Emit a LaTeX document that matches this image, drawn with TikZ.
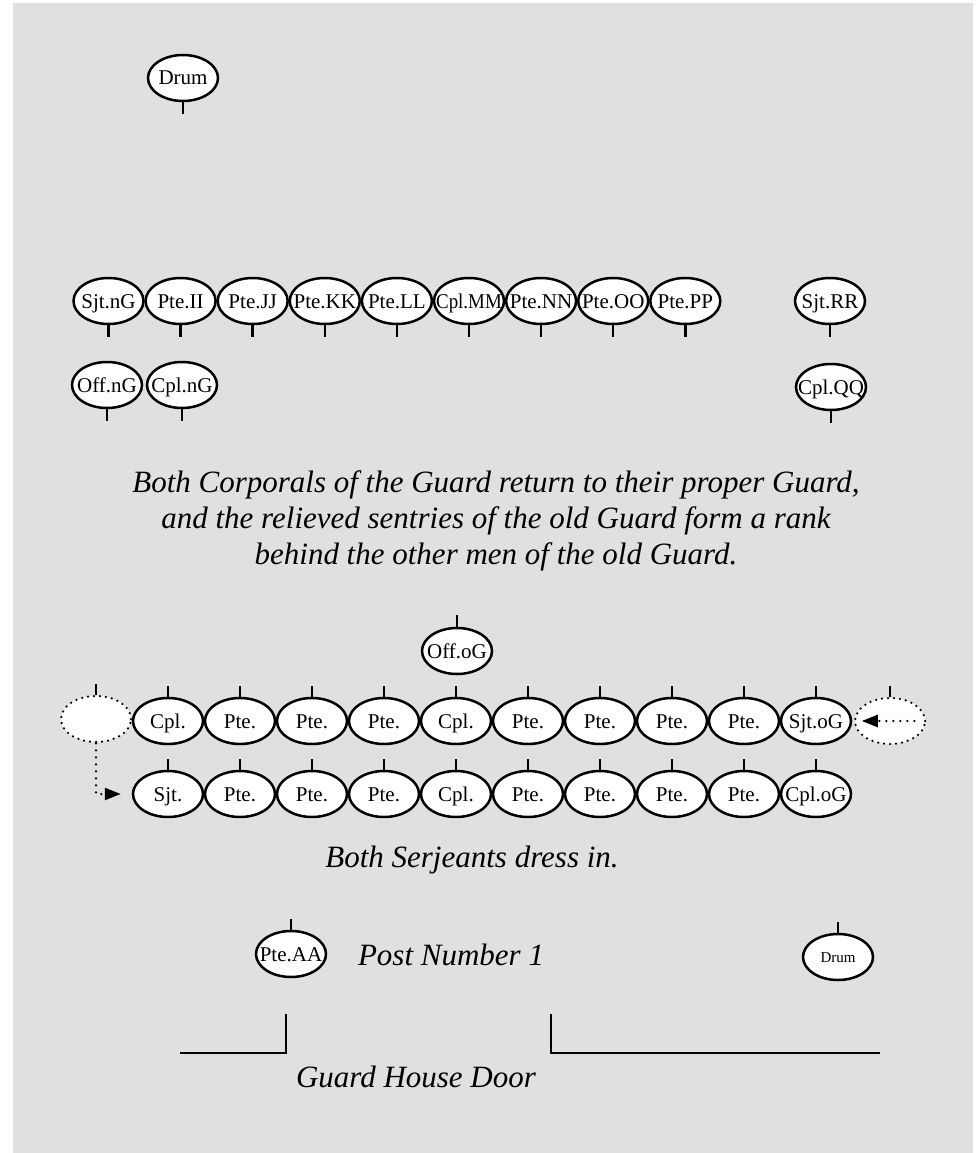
\documentclass[tikz,border=0pt]{standalone}
\usepackage{fontspec}
\usepackage{graphicx}
\setmainfont{Liberation Serif}
\usetikzlibrary{shapes.geometric,arrows.meta}
\definecolor{bggray}{HTML}{E0E0E0}
\tikzset{
  man/.style={draw, ellipse, fill=white, line width=2.5pt, minimum width=70pt, minimum height=46pt, inner sep=0pt},
  gap/.style={man, dash pattern=on 0pt off 6pt, line cap=round},
  every label/.style={font=\fontsize{21}{21}\selectfont, inner sep=0pt, text height=14pt, text depth=0pt},
  face/.style={line width=2.5pt},
  move/.style={line width=2.5pt, dash pattern=on 0pt off 7pt, line cap=round, -{Triangle[length=16pt,width=12pt]}},
  caption/.style={font=\fontsize{31}{36}\selectfont\itshape, align=center},
  wall/.style={line width=2pt}
}
\begin{document}
\begin{tikzpicture}[x=1pt, y=-1pt]
    \useasboundingbox (0,0) rectangle (976,1153);
    \fill[bggray] (13,3) rectangle (973,1153);

    % New guard
    \node[man, label=center:Drum] (drumn) at (183,78) {};
    \draw[face] (drumn.south) -- ++(0,12);

    \foreach \t [count=\i] in {Sjt.nG,Pte.II,Pte.JJ,Pte.KK,Pte.LL,{\scalebox{0.9}[1]{Cpl.MM}},Pte.NN,Pte.OO,Pte.PP}
        \node[man, label=center:\t] (nf\i) at ({108.5+72.1*(\i-1)},301) {};
    \node[man, label=center:Sjt.RR] (sjtrr) at (830,301) {};
    \foreach \n in {nf1,nf2,nf3,nf4,nf5,nf6,nf7,nf8,nf9,sjtrr}
        \draw[face] (\n.south) -- ++(0,12);

    \node[man, label=center:Off.nG] (offn) at (107,385) {};
    \node[man, label=center:Cpl.nG] (cpln) at (182,385) {};
    \node[man, label=center:Cpl.QQ] (cplqq) at (831,387) {};
    \foreach \n in {offn,cpln,cplqq}
        \draw[face] (\n.south) -- ++(0,12);

    \node[caption] (txtcpl) at (496,521) {Both Corporals of the Guard return to their proper Guard,\\
        and the relieved sentries of the old Guard form a rank\\
        behind the other men of the old Guard.};

    % Old guard
    \node[man, label=center:Off.oG] (offo) at (457,651) {};
    \draw[face] (offo.north) -- ++(0,-12);

    \node[gap] (lgap) at (96,719) {};
    \foreach \t [count=\i] in {Cpl.,Pte.,Pte.,Pte.,Cpl.,Pte.,Pte.,Pte.,Pte.,Sjt.oG}
        \node[man, label=center:\t] (of\i) at ({168+72*(\i-1)},721) {};
    \node[gap] (rgap) at (890,721) {};
    \foreach \t [count=\i] in {Sjt.,Pte.,Pte.,Pte.,Cpl.,Pte.,Pte.,Pte.,Pte.,Cpl.oG}
        \node[man, label=center:\t] (or\i) at ({168+72*(\i-1)},794) {};
    \foreach \i in {1,...,10} {
        \draw[face] (of\i.north) -- ++(0,-11);
        \draw[face] (or\i.north) -- ++(0,-11);
    }
    \draw[face] (lgap.north) -- ++(0,-11);
    \draw[face] (rgap.north) -- ++(0,-11);

    % Serjeants
    \draw[move] (lgap.south) |- ([xshift=-11pt]or1.west);
    \draw[move] ([xshift=-12pt]rgap.east) -- ([xshift=8pt]rgap.west);

    \node[caption] (txtsjt) at (472,860) {Both Serjeants dress in.};

    % Post
    \node[man, label=center:Pte.AA] (pteaa) at (291,954) {};
    \draw[face] (pteaa.north) -- ++(0,-11);
    \node[caption] (txtpost) at (451,955) {Post Number 1};
    \node[man, label={[font=\fontsize{15}{15}\selectfont, text height=10pt]center:Drum}] (drumo) at (838,957) {};
    \draw[face] (drumo.north) -- ++(0,-11);

    % Guard house
    \draw[wall] (180,1053) -- (286,1053) -- (286,1014);
    \draw[wall] (551,1014) -- (551,1053) -- (880,1053);
    \node[caption] (txtdoor) at (416,1077) {Guard House Door};
\end{tikzpicture}
\end{document}
